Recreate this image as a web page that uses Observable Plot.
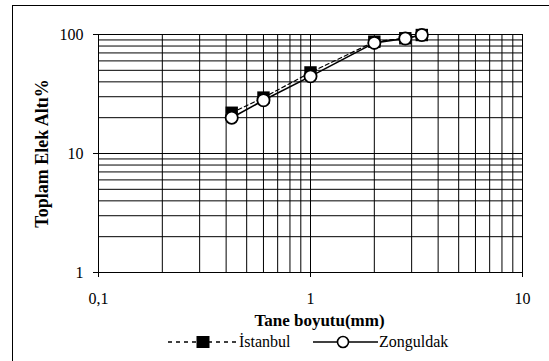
<!DOCTYPE html>
<html><head><meta charset="utf-8">
<script src="https://cdn.jsdelivr.net/npm/d3@7"></script>
<script src="https://cdn.jsdelivr.net/npm/@observablehq/plot@0.6"></script>
<style>
html,body{margin:0;padding:0;background:#fff;}
#wrap{position:relative;width:549px;height:361px;overflow:hidden;font-family:"Liberation Serif","Times New Roman",Tinos,"DejaVu Serif",serif;}
#border{position:absolute;left:12px;top:5px;width:800px;height:600px;border-left:1.5px solid #000;border-top:1.5px solid #000;box-sizing:border-box;}
#chart{position:absolute;left:0;top:0;width:549px;}
#legend{position:relative;height:24px;font-size:16px;color:#000;}
.item{position:absolute;top:0;display:flex;align-items:center;height:20px;}
.item svg{display:block;}
svg text{font-family:"Liberation Serif","Times New Roman",Tinos,"DejaVu Serif",serif;}
</style></head><body>
<div id="wrap"><div id="border"></div><div id="chart"></div></div>
<script>
// Data
const sizes = [0.425, 0.6, 1, 2, 2.8, 3.35];          // Tane boyutu (mm)
const istanbul = [22, 29.5, 48, 87, 93, 99];           // Toplam Elek Altı %
const zonguldak = [20, 28, 44.5, 85, 92.5, 99];
const seriesNames = ["İstanbul", "Zonguldak"];
const xTicks = [0.1, 1, 10];
const xTickLabels = ["0,1", "1", "10"];
const yTicks = [1, 10, 100];
const yTickLabels = ["1", "10", "100"];
const xGrid = [0.1,0.2,0.3,0.4,0.5,0.6,0.7,0.8,0.9,1,2,3,4,5,6,7,8,9,10];
const yGrid = [1,2,3,4,5,6,7,8,9,10,20,30,40,50,60,70,80,90,100];
const xLabel = "Tane boyutu(mm)";
const yLabel = "Toplam Elek Altı%";

const ist = sizes.map((s, i) => ({x: s, y: istanbul[i]}));
const zon = sizes.map((s, i) => ({x: s, y: zonguldak[i]}));

const font = "'Liberation Serif', 'Times New Roman', Tinos, 'DejaVu Serif', serif";
const chart = Plot.plot({
  width: 549, height: 332,
  marginLeft: 98, marginRight: 27, marginTop: 34, marginBottom: 60,
  x: {type: "log", domain: [0.1, 10]},
  y: {type: "log", domain: [1, 100]},
  style: {fontFamily: font, fontSize: "16px", color: "#000", background: "transparent", overflow: "visible"},
  marks: [
    Plot.ruleX(xGrid, {stroke: "#000", strokeWidth: 1}),
    Plot.ruleY(yGrid, {stroke: "#000", strokeWidth: 1}),
    Plot.axisX({ticks: xTicks, tickFormat: d => xTickLabels[xTicks.indexOf(d)], tickSize: 5, tickPadding: 15, fontSize: 16, label: null, stroke: "#000"}),
    Plot.axisY({ticks: yTicks, tickFormat: d => yTickLabels[yTicks.indexOf(d)], tickSize: 5, tickPadding: 10, fontSize: 16, label: null, stroke: "#000"}),
    Plot.text([xLabel], {frameAnchor: "bottom", textAnchor: "middle", dy: 48, dx: 9, fontWeight: "bold", fontSize: 17, lineAnchor: "middle", fill: "#000"}),
    Plot.text([yLabel], {frameAnchor: "left", textAnchor: "middle", dx: -56, rotate: -90, fontWeight: "bold", fontSize: 18, lineAnchor: "middle", fill: "#000"}),
    Plot.line(ist, {x: "x", y: "y", stroke: "#000", strokeWidth: 1.2, strokeDasharray: "4,3"}),
    Plot.dot(ist, {x: "x", y: "y", symbol: "square", r: 7, fill: "#000", stroke: "none"}),
    Plot.line(zon, {x: "x", y: "y", stroke: "#000", strokeWidth: 1.6}),
    Plot.dot(zon, {x: "x", y: "y", r: 6.1, fill: "#fff", stroke: "#000", strokeWidth: 1.8})
  ]
});
const host = document.getElementById("chart");
host.appendChild(chart);

// Legend below the SVG
const legend = document.createElement("div");
legend.id = "legend";
legend.innerHTML = `
<div class="item" style="left:168px">
  <svg width="70" height="16"><line x1="0" x2="70" y1="8" y2="8" stroke="#000" stroke-width="1.5" stroke-dasharray="4,4"/><rect x="28.5" y="2" width="13" height="12" fill="#000"/></svg>
  <span style="margin-left:1px">${seriesNames[0]}</span>
</div>
<div class="item" style="left:313px">
  <svg width="65" height="16"><line x1="0" x2="65" y1="8" y2="8" stroke="#000" stroke-width="1.6"/><circle cx="30" cy="8" r="5.5" fill="#fff" stroke="#000" stroke-width="1.6"/></svg>
  <span style="margin-left:1px">${seriesNames[1]}</span>
</div>`;
host.appendChild(legend);
</script>
</body></html>
